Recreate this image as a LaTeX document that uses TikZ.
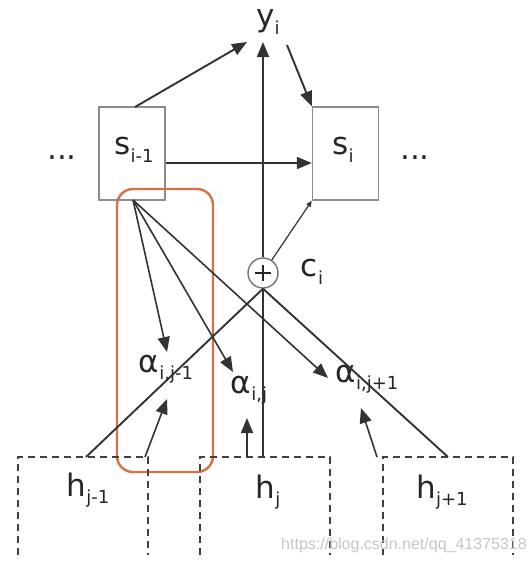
\documentclass[tikz,border=0pt]{standalone}
\usepackage{fontspec}
\setmainfont{DejaVu Sans}
\newfontfamily\wmfont{Liberation Sans}
\usetikzlibrary{arrows.meta}
\definecolor{focusorange}{RGB}{214,112,72}
\newcommand{\lowtext}[1]{\raisebox{-0.24em}{\fontsize{18}{18}\selectfont #1}}
\begin{document}
\begin{tikzpicture}[x=1pt,y=-1pt,
  lbl/.style={font=\fontsize{31}{34}\selectfont, text=black!85, inner sep=0pt},
  conn/.style={draw=black!80, line width=1.9pt},
  arr/.style={conn, -{Triangle[length=15pt,width=12pt]}},
  stbox/.style={draw=black!45, line width=1.4pt, minimum width=66pt, minimum height=93pt, inner sep=0pt},
  hbox/.style={draw=black!75, line width=2.4pt, dash pattern=on 7pt off 5pt},
  focus/.style={draw=focusorange, line width=2.4pt, rounded corners=16pt},
  wm/.style={font=\wmfont\fontsize{16}{16}\selectfont, text=black!22, inner sep=0pt}]
\useasboundingbox (0,0) rectangle (532,571);
\fill[white] (0,0) rectangle (532,571);

% focus box (orange)
\draw[focus] (117,189) rectangle (213,472);

% state boxes
\node[stbox] (sprev) at (132,153.5) {};
\node[lbl] (sprevlbl) at (134,150) {s\lowtext{i-1}};
\node[stbox] (si) at (345.5,153.5) {};
\node[lbl] (silbl) at (343,150) {s\lowtext{i}};
\node[lbl] (dotsl) at (62,158) {...};
\node[lbl] (dotsr) at (415,158) {...};

% output
\node[lbl] (yi) at (268,22) {y\lowtext{i}};
\coordinate (yiin) at (263,42);
\coordinate (yileft) at (247,42);
\coordinate (yiright) at (287,45);

% sum node
\node[circle, draw=black!55, line width=1.4pt, minimum size=30pt, inner sep=0pt] (plus) at (263,273) {};
\draw[line width=2.8pt, black!85] ([xshift=-8pt]plus.center) -- ([xshift=8pt]plus.center);
\draw[line width=2.8pt, black!85] ([yshift=-8pt]plus.center) -- ([yshift=8pt]plus.center);
\node[lbl] (ci) at (312,272) {c\lowtext{i}};

% alpha labels
\node[lbl] (a1) at (166,369) {α\lowtext{i,j-1}};
\node[lbl] (a2) at (249,390) {α\lowtext{i,j}};
\node[lbl] (a3) at (367,379) {α\lowtext{i,j+1}};
\coordinate (a1top) at (167,352);
\coordinate (a2top) at (233,372);
\coordinate (a3top) at (328,378);
\coordinate (a1bot) at (167,399);
\coordinate (a2bot) at (247,418);
\coordinate (a3bot) at (361,408);

% encoder hidden states (dashed, open at bottom)
\draw[hbox] (18,555) -- (18,457) -- (148,457) -- (148,555);
\draw[hbox] (200,555) -- (200,457) -- (330,457) -- (330,555);
\draw[hbox] (383,555) -- (383,457) -- (513,457) -- (513,555);
\node[lbl] (hm1) at (88,490) {h\lowtext{j-1}};
\node[lbl] (hj) at (268,492) {h\lowtext{j}};
\node[lbl] (hp1) at (442,492) {h\lowtext{j+1}};
\coordinate (hm1top) at (86,457);
\coordinate (hjtop) at (263,457);
\coordinate (hp1top) at (448,457);
\coordinate (hm1a) at (145,457);
\coordinate (hja) at (247,457);
\coordinate (hp1a) at (377,457);
\coordinate (sprevbot) at (133,200);
\coordinate (sprevtop) at (135,107);

% connectors
\draw[arr] (sprevtop) -- (yileft);
\draw[arr] (plus.north) -- (yiin);
\draw[arr] (yiright) -- (si.north west);
\draw[arr] (sprev.east |- 0,163) -- (si.west |- 0,163);
\draw[conn, line width=1.2pt, -{Triangle[length=6pt,width=5pt]}] (plus) -- (si.south west);

\draw[arr, line width=1.6pt] (sprevbot) -- (a1top);
\draw[arr, line width=1.6pt] (sprevbot) -- (a2top);
\draw[arr, line width=1.6pt] (sprevbot) -- (a3top);

\draw[conn] (plus.south) -- (hm1top);
\draw[conn, line width=1.4pt] (plus.south) -- (hjtop);
\draw[conn] (plus.south) -- (hp1top);

\draw[arr, line width=1.6pt] (hm1a) -- (a1bot);
\draw[arr, line width=1.6pt] (hja) -- (a2bot);
\draw[arr, line width=1.6pt] (hp1a) -- (a3bot);

% watermark
\node[wm] (mark) at (404,545) {https://blog.csdn.net/qq\_41375318};
\end{tikzpicture}
\end{document}
